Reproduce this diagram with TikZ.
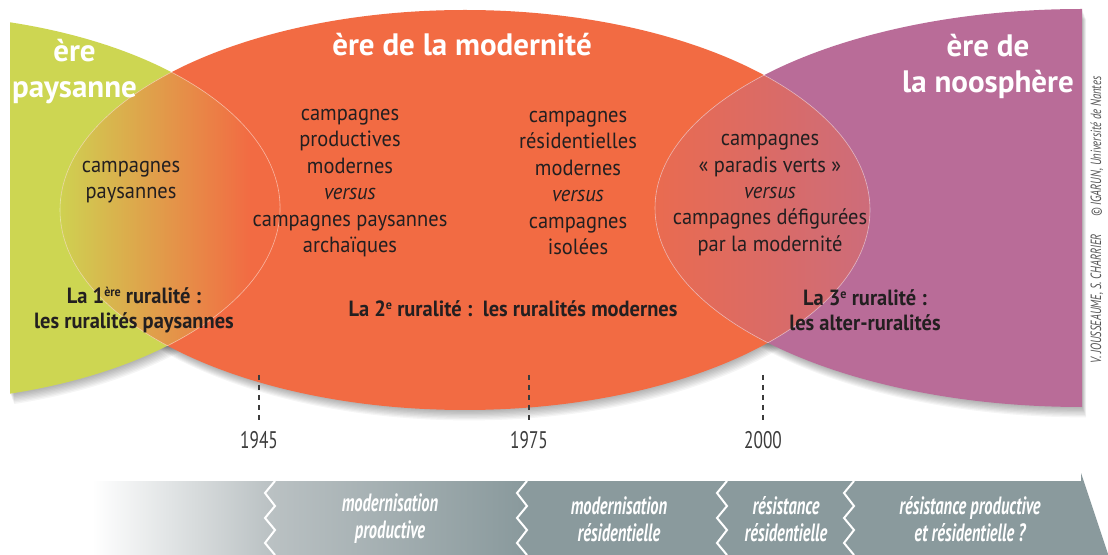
\documentclass[tikz,border=0pt]{standalone}
\usepackage{fontspec}
\setmainfont{PT Sans}
\newfontfamily\bodyfont[FakeStretch=0.93]{PT Sans}
\newfontfamily\narrowfont[FakeStretch=0.72]{PT Sans}
\newfontfamily\bandfont[FakeStretch=0.66]{PT Sans}
\usepackage{tikz}
\usetikzlibrary{calc}
\definecolor{paysbg}{RGB}{205,214,82}
\definecolor{modbg}{RGB}{242,107,67}
\definecolor{noobg}{RGB}{185,108,152}
\definecolor{inkdark}{RGB}{35,31,32}
\definecolor{tickgray}{RGB}{60,60,60}
\definecolor{bandlight}{RGB}{186,193,195}
\definecolor{banddark}{RGB}{138,154,157}
\definecolor{creditgray}{RGB}{85,85,85}
\newcommand{\paysshape}{(10,22.3) arc[start angle=-73.17, end angle=73.17, x radius=380, y radius=194] -- cycle}
\newcommand{\modshape}{(465,210) ellipse[x radius=405, y radius=200]}
\newcommand{\nooshape}{(1082,407) arc[start angle=90, end angle=270, x radius=427, y radius=199] -- cycle}
\newcommand{\rurexp}[1]{\raisebox{0.62ex}{\fontsize{6.5}{6.5}\selectfont #1}}
\tikzset{
  eratitle/.style={font=\fontsize{15.5}{18}\selectfont\bfseries, text=white,
                   align=center, inner sep=0pt},
  campbox/.style={font=\bodyfont\fontsize{11}{13.2}\selectfont, text=inkdark,
                  align=center, inner sep=0pt},
  ruralbox/.style={font=\bodyfont\fontsize{11}{12.6}\selectfont\bfseries, text=inkdark,
                   align=center, inner sep=0pt},
  yearlabel/.style={font=\narrowfont\fontsize{12}{13}\selectfont, text=tickgray, inner sep=0pt},
  tickline/.style={tickgray, line width=0.6pt, dash pattern=on 2.6pt off 2.4pt},
  bandlabel/.style={font=\bandfont\bfseries\itshape\fontsize{12.5}{13.5}\selectfont, text=white,
                    align=center, inner sep=0pt},
  creditlabel/.style={font=\narrowfont\itshape\fontsize{7.4}{8}\selectfont, text=creditgray,
                      inner sep=0pt},
  zigline/.style={white, line width=1pt},
  lensline/.style={white, line width=0.3pt, opacity=0.5},
  shadowfill/.style={black, opacity=0.04},
}

\begin{document}
\begin{tikzpicture}[x=0.5pt, y=-0.5pt]
  \useasboundingbox (0,0) rectangle (1108,555);
  \clip (0,0) rectangle (1108,555);
  \fill[white] (0,0) rectangle (1108,555);

  \foreach \k in {1,...,8} {
    \fill[shadowfill, shift={(0.5*\k,1.3*\k)}] \paysshape;
    \fill[shadowfill, shift={(0.5*\k,1.3*\k)}] \modshape;
    \fill[shadowfill, shift={(0.5*\k,1.3*\k)}] \nooshape;
  }
  \fill[paysbg] \paysshape;
  \fill[modbg] \modshape;
  \fill[noobg] \nooshape;

  \begin{scope}
    \clip \paysshape;
    \clip \modshape;
    \shade[left color=paysbg!95!modbg, right color=modbg] (60,0) rectangle (250,420);
    \fill[modbg] (250,0) rectangle (300,420);
  \end{scope}
  \begin{scope}
    \clip \modshape;
    \clip \nooshape;
    \shade[left color=modbg!85!noobg, right color=modbg!35!noobg] (655,0) rectangle (870,420);
  \end{scope}
  \begin{scope}
    \clip \paysshape;
    \draw[lensline] \modshape;
  \end{scope}
  \begin{scope}
    \clip \modshape;
    \draw[lensline] \paysshape;
    \draw[lensline] \nooshape;
  \end{scope}
  \begin{scope}
    \clip \nooshape;
    \draw[lensline] \modshape;
  \end{scope}

  \node[eratitle] (erepays) at (74.5,72) {ère\\paysanne};
  \node[eratitle] (eremod) at (462,45) {ère de la modernité};
  \node[eratitle] (erenoo) at (988,66) {ère de\\la noosphère};

  \node[campbox] (paysannes) at (131,182) {campagnes\\paysannes};
  \node[campbox] (productives) at (350,183)
    {campagnes\\productives\\modernes\\\textit{versus}\\campagnes paysannes\\archaïques};
  \node[campbox] (residentielles) at (578,183)
    {campagnes\\résidentielles\\modernes\\\textit{versus}\\campagnes\\isolées};
  \node[campbox] (paradis) at (770,195)
    {campagnes\\« paradis verts »\\\textit{versus}\\campagnes défigurées\\par la modernité};

  \node[ruralbox] (rural1) at (134,310) {La 1\rurexp{ère} ruralité :\\les ruralités paysannes};
  \node[ruralbox] (rural2) at (513,309) {La 2\rurexp{e} ruralité :\ \ les ruralités modernes};
  \node[ruralbox] (rural3) at (865,310) {La 3\rurexp{e} ruralité :\\les alter-ruralités};

  \foreach \yr/\tx in {1945/259, 1975/529, 2000/763} {
    \node[yearlabel] (y\yr) at (\tx,440) {\yr};
    \coordinate (t\yr) at (\tx,375);
    \draw[tickline] (t\yr) -- ([yshift=5pt]y\yr.north);
  }

  \node[creditlabel, rotate=90] (credit) at (1097,220)
    {V. JOUSSEAUME, S. CHARRIER\quad\ © IGARUN, Université de Nantes};

  \shade[left color=white, right color=bandlight] (92,481) rectangle (271,600);
  \shade[left color=bandlight, right color=banddark] (270,481) rectangle (521,600);
  \fill[banddark] (520,481) rectangle (1082,600);
  \fill[banddark] (1081,473) -- (1112,566) -- (1081,660) -- cycle;
  \foreach \zx in {270,522,722,849} {
    \draw[zigline] (\zx+5,481) -- (\zx-5,493) -- (\zx+5,506) -- (\zx-5,518)
      -- (\zx+5,530) -- (\zx-5,543) -- (\zx+5,555);
  }

  \node[bandlabel] (modprod) at (390,519) {modernisation\\productive};
  \node[bandlabel] (modres) at (619,519) {modernisation\\résidentielle};
  \node[bandlabel] (resres) at (786,519) {résistance\\résidentielle};
  \node[bandlabel] (resprod) at (970,519) {résistance productive\\et résidentielle ?};
\end{tikzpicture}
\end{document}
